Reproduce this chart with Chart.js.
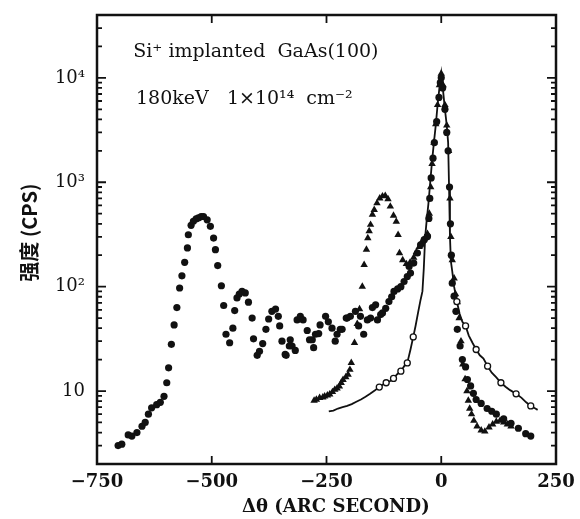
<!DOCTYPE html>
<html>
<head>
<meta charset="utf-8">
<script src="https://cdn.jsdelivr.net/npm/chart.js@4"></script>
<style>
  html, body { margin: 0; padding: 0; background: #fff; }
</style>
</head>
<body>
<canvas id="chart" width="580" height="519"></canvas>
<script>
// axis ticks
const xTicks = [-750, -500, -250, 0, 250];
const xTickLabels = ['\u2212750', '\u2212500', '\u2212250', '0', '250'];
const yTicks = [10, 100, 1000, 10000];
const yTickLabels = ['10', '10\u00b2', '10\u00b3', '10\u2074'];

// filled circles
const dotX = [
  -704, -696, -682, -674, -663, -652, -645, -638, -631, -620,
  -612, -604, -598, -594, -588, -582, -576, -570, -565, -559,
  -553, -551, -545, -540, -534, -529, -523, -518, -510, -503,
  -496, -492, -487, -479, -474, -469, -461, -454, -450, -445,
  -440, -434, -427, -420, -412, -409, -401, -396, -389, -382,
  -376, -369, -361, -355, -352, -347, -340, -338, -331, -329,
  -325, -318, -314, -307, -301, -292, -287, -281, -278, -274,
  -267, -264, -252, -246, -238, -231, -227, -220, -216, -207,
  -205, -198, -187, -180, -176, -169, -161, -154, -150, -143,
  -139, -132, -128, -121, -114, -108, -103, -95, -88, -81,
  -74, -70, -67, -60, -52, -45, -37, -30, -27, -25,
  -22, -18, -15, -10, -5, -2, 0, 3, 8, 12,
  15, 18, 20, 22, 24, 28, 32, 35, 41, 46,
  53, 57, 64, 70, 76, 87, 100, 110, 120, 136,
  152, 168, 184, 195
];
const dotY = [
  3.0, 3.1, 3.8, 3.7, 4.0, 4.6, 5.0, 6.0, 6.9, 7.4,
  7.8, 8.9, 12, 16.7, 28, 43, 63, 97, 127, 171,
  235, 314, 387, 422, 445, 455, 468, 470, 437, 378,
  292, 226, 159, 102, 66, 35, 29, 40, 59, 78,
  85, 90, 87, 71, 50, 31.6, 22, 24, 28.5, 39,
  49, 58, 61, 52, 42, 30, 22.4, 22, 27, 31,
  27, 24.5, 48, 52, 48, 38, 31, 31, 26, 35,
  35.5, 43, 52, 46, 40, 30, 35, 39, 39, 50,
  50, 52, 58, 42, 52, 35, 48, 50, 63, 67,
  48, 54, 56, 62, 72, 80, 90, 95, 100, 112,
  125, 156, 135, 168, 210, 252, 282, 303, 450, 700,
  1100, 1700, 2400, 3800, 6500, 9000, 10000, 8000, 5000, 3000,
  2000, 900, 400, 200, 108, 81, 58, 39, 27, 20,
  17, 12.9, 11.2, 9.5, 8.3, 7.6, 6.8, 6.4, 6.0, 5.4,
  4.9, 4.4, 3.9, 3.7
];

// triangles
const triX = [
  -277, -272, -265, -258, -254, -248, -243, -237, -232, -227,
  -222, -218, -214, -208, -203, -199, -196, -189, -183, -178,
  -172, -168, -163, -160, -157, -154, -150, -146, -140, -134,
  -128, -122, -116, -111, -104, -98, -94, -91, -84, -76,
  -68, -60, -54, -48, -42, -36, -30, -26, -23,
  -20, -16, -12, -8, -4, 0, 4, 8, 12, 16,
  19, 21, 24, 28, 31, 35, 39, 43, 47, 52,
  56, 59, 62, 66, 71, 78, 87, 95, 104, 112,
  120, 128, 136, 144, 152
];
const triY = [
  8.1, 8.3, 8.6, 8.7, 8.9, 9.1, 9.3, 9.8, 10.3, 10.6,
  11.1, 12, 12.8, 13.6, 14.4, 16, 18.6, 29, 44, 61,
  100, 162, 226, 292, 340, 392, 490, 545, 630, 700,
  735, 740, 690, 586, 480, 420, 314, 210, 180, 165,
  170, 190, 215, 240, 270, 290, 320, 500, 900,
  1500, 2400, 3600, 5500, 8500, 11000, 8500, 5500, 3500, 2000,
  700, 300, 180, 120, 85, 71, 50, 30, 18, 13,
  10, 8.1, 6.8, 6.0, 5.2, 4.6, 4.2, 4.1, 4.5, 4.8,
  5.1, 5.2, 5.0, 4.8, 4.6
];

// open circles joined by a line
const lineX = [
  -245, -235, -225, -215, -205, -195, -185, -175, -165, -155,
  -145, -135, -128, -120, -112, -104, -96, -88, -80, -74,
  -67, -61, -56, -50, -45, -41, -38, -35, -32, -28,
  -24, -20, -16, -12, -8, -4, 0, 4, 8, 12,
  15, 17, 19, 21, 24, 28, 34, 40, 46, 53,
  60, 68, 76, 84, 92, 101, 110, 120, 130, 140,
  150, 163, 175, 185, 195, 205, 210
];
const lineY = [
  6.4, 6.5, 6.8, 7.0, 7.2, 7.5, 7.9, 8.3, 8.8, 9.4,
  10.1, 10.9, 11.5, 12.0, 12.4, 13.2, 14.5, 15.5, 17.5, 18.6,
  25, 33, 42, 58, 75, 90, 150, 300, 420, 620,
  1000, 1600, 2400, 3500, 5500, 8000, 11000, 7500, 5000, 3500,
  2400, 900, 300, 175, 140, 100, 72, 55, 46, 42,
  34, 29, 25, 22, 20.5, 17.3, 15, 13.5, 12, 11,
  10.2, 9.4, 8.6, 7.8, 7.2, 6.8, 6.6
];

const noteLines = ['Si\u207a implanted  GaAs(100)', '180keV   1\u00d710\u00b9\u2074  cm\u207b\u00b2'];
const noteX = [-671, -665];
const noteY = [17500, 6300];

const toPoints = (xs, ys) => xs.map((x, i) => ({ x, y: ys[i] }));
const ink = '#111';

// frame, inward ticks and the two note lines
const frameAndTicks = {
  id: 'frameAndTicks',
  afterDatasetsDraw(chart) {
    const { ctx, chartArea: a, scales: { x, y } } = chart;
    ctx.save();
    ctx.strokeStyle = ink;
    ctx.lineWidth = 2.5;
    ctx.strokeRect(a.left, a.top, a.right - a.left, a.bottom - a.top);

    ctx.lineWidth = 1.8;
    ctx.beginPath();
    xTicks.forEach(v => {
      const px = x.getPixelForValue(v);
      if (px <= a.left + 1 || px >= a.right - 1) return;
      ctx.moveTo(px, a.bottom); ctx.lineTo(px, a.bottom - 8);
      ctx.moveTo(px, a.top); ctx.lineTo(px, a.top + 8);
    });
    for (let d = 1; d <= 10000; d *= 10) {
      for (let m = 1; m <= 9; m++) {
        const v = d * m;
        if (v <= y.min || v >= y.max) continue;
        const py = y.getPixelForValue(v);
        const len = m === 1 ? 9 : 5;
        ctx.moveTo(a.left, py); ctx.lineTo(a.left + len, py);
        ctx.moveTo(a.right, py); ctx.lineTo(a.right - len, py);
      }
    }
    ctx.stroke();

    ctx.fillStyle = ink;
    ctx.font = '19px "DejaVu Serif", serif';
    ctx.textBaseline = 'middle';
    noteLines.forEach((t, i) => {
      ctx.fillText(t, x.getPixelForValue(noteX[i]), y.getPixelForValue(noteY[i]));
    });
    ctx.restore();
  }
};

new Chart(document.getElementById('chart'), {
  type: 'scatter',
  data: {
    datasets: [
      {
        label: 'line',
        data: toPoints(lineX, lineY),
        showLine: true,
        borderColor: ink,
        borderWidth: 1.8,
        tension: 0,
        pointStyle: 'circle',
        pointRadius: c => ((c.dataIndex >= 11 && c.dataIndex <= 22 && c.dataIndex % 2 === 1) ||
                           (c.dataIndex >= 45 && c.dataIndex % 3 === 1)) ? 3 : 0,
        pointBackgroundColor: '#fff',
        pointBorderColor: ink,
        pointBorderWidth: 1.3
      },
      {
        label: 'dots',
        data: toPoints(dotX, dotY),
        pointStyle: 'circle',
        pointRadius: 3.6,
        backgroundColor: ink,
        borderColor: ink,
        borderWidth: 0
      },
      {
        label: 'triangles',
        data: toPoints(triX, triY),
        pointStyle: 'triangle',
        pointRadius: 4.3,
        backgroundColor: ink,
        borderColor: ink,
        borderWidth: 0
      }
    ]
  },
  options: {
    responsive: false,
    animation: false,
    layout: { padding: { top: 15, right: 24, left: 0, bottom: 0 } },
    plugins: { legend: { display: false }, tooltip: { enabled: false } },
    scales: {
      x: {
        type: 'linear',
        min: -750,
        max: 250,
        grid: { display: false, drawTicks: false },
        border: { display: false },
        afterBuildTicks: s => { s.ticks = xTicks.map(v => ({ value: v })); },
        afterFit: s => { s.height = 55; s.paddingLeft = 0; s.paddingRight = 0; },
        ticks: {
          padding: 8,
          color: ink,
          autoSkip: false,
          maxRotation: 0,
          font: { family: 'DejaVu Serif', size: 18, weight: 'bold' },
          callback: v => xTickLabels[xTicks.indexOf(v)]
        },
        title: {
          display: true,
          text: '   \u0394\u03b8 (ARC SECOND)',
          color: ink,
          font: { family: 'DejaVu Serif', size: 18, weight: 'bold' },
          padding: { top: 0, bottom: 1 }
        }
      },
      y: {
        type: 'logarithmic',
        min: 2,
        max: 40000,
        grid: { display: false, drawTicks: false },
        border: { display: false },
        afterBuildTicks: s => { s.ticks = yTicks.map(v => ({ value: v })); },
        afterFit: s => { s.width = 97; s.paddingTop = 0; s.paddingBottom = 0; },
        ticks: {
          padding: 12,
          color: ink,
          font: { family: 'DejaVu Serif', size: 18 },
          callback: v => yTickLabels[yTicks.indexOf(v)]
        },
        title: {
          display: true,
          text: '   \u5f3a\u5ea6 (CPS)',
          color: ink,
          font: { family: 'Noto Sans CJK SC', size: 20, weight: 'bold' },
          padding: { top: 17, bottom: 0 }
        }
      }
    }
  },
  plugins: [frameAndTicks]
});
</script>
</body>
</html>
